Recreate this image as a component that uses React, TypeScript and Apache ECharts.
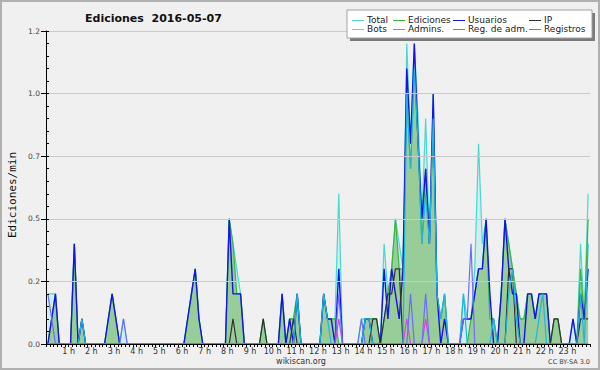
import React, { useEffect, useRef } from 'react';
import * as echarts from 'echarts';

// 10-minute bins (144 per day), values in edits per minute
const TOTAL = [
  0.2, 0.2, 0.2, 0, 0, 0, 0, 0.4, 0, 0.1, 0, 0,
  0, 0, 0, 0, 0.1, 0.2, 0.1, 0, 0.1, 0, 0, 0,
  0, 0, 0, 0, 0, 0, 0, 0, 0, 0, 0, 0,
  0, 0.1, 0.2, 0.3, 0.1, 0, 0, 0, 0, 0, 0, 0,
  0.5, 0.4, 0.3, 0.2, 0, 0, 0, 0, 0, 0.1, 0, 0,
  0, 0, 0.2, 0, 0.1, 0.1, 0.2, 0, 0, 0, 0, 0,
  0, 0.2, 0.1, 0.1, 0.1, 0.6, 0, 0, 0, 0, 0, 0.1,
  0.1, 0.1, 0.1, 0.1, 0, 0.4, 0.2, 0.3, 0.5, 0.4, 0.3, 1.2,
  0.8, 1.2, 0.9, 0.5, 0.9, 0.4, 1.0, 0.2, 0.1, 0.2, 0, 0,
  0, 0, 0.2, 0.1, 0.1, 0.3, 0.8, 0.4, 0.5, 0.1, 0.1, 0,
  0.2, 0.5, 0.4, 0.3, 0.2, 0.1, 0.1, 0.2, 0.2, 0.1, 0.2, 0.2,
  0.2, 0, 0.1, 0.1, 0, 0, 0, 0.1, 0, 0.4, 0.1, 0.6,
];
const EDICIONES = [
  0, 0.1, 0.2, 0, 0, 0, 0, 0.4, 0, 0.1, 0, 0,
  0, 0, 0, 0, 0.1, 0.2, 0.1, 0, 0, 0, 0, 0,
  0, 0, 0, 0, 0, 0, 0, 0, 0, 0, 0, 0,
  0, 0.1, 0.2, 0.3, 0.1, 0, 0, 0, 0, 0, 0, 0,
  0.5, 0.4, 0.2, 0.2, 0, 0, 0, 0, 0, 0.1, 0, 0,
  0, 0, 0.2, 0, 0.1, 0.1, 0.2, 0, 0, 0, 0, 0,
  0, 0.2, 0.1, 0.1, 0.1, 0, 0, 0, 0, 0, 0, 0,
  0.1, 0.1, 0.1, 0.1, 0, 0.1, 0.2, 0.3, 0.5, 0.3, 0.3, 1.0,
  0.7, 1.1, 0.8, 0.4, 0.7, 0.4, 0.9, 0.2, 0.1, 0.2, 0, 0,
  0, 0, 0, 0, 0.1, 0.2, 0.3, 0.3, 0.5, 0.1, 0.1, 0,
  0.2, 0.5, 0.4, 0.3, 0.2, 0.1, 0.1, 0.2, 0.2, 0.1, 0.2, 0.2,
  0.2, 0, 0.1, 0.1, 0, 0, 0, 0, 0, 0.3, 0.1, 0.5,
];
const USUARIOS = [
  0, 0.1, 0.2, 0, 0, 0, 0, 0.4, 0, 0.1, 0, 0,
  0, 0, 0, 0, 0.1, 0.2, 0.1, 0, 0, 0, 0, 0,
  0, 0, 0, 0, 0, 0, 0, 0, 0, 0, 0, 0,
  0, 0.1, 0.2, 0.3, 0.1, 0, 0, 0, 0, 0, 0, 0,
  0.5, 0.2, 0.2, 0.2, 0, 0, 0, 0, 0, 0, 0, 0,
  0, 0, 0.2, 0, 0.1, 0, 0.2, 0, 0, 0, 0, 0,
  0, 0.2, 0.1, 0.1, 0, 0.3, 0, 0, 0, 0, 0, 0,
  0.1, 0.1, 0, 0, 0, 0.3, 0.1, 0.3, 0.2, 0.1, 0.3, 1.1,
  0.8, 1.2, 0.8, 0.5, 0.7, 0.4, 1.0, 0.2, 0, 0.1, 0, 0,
  0, 0, 0.1, 0.1, 0.1, 0.2, 0.3, 0.3, 0.5, 0.2, 0, 0,
  0.2, 0.5, 0.3, 0.2, 0.2, 0, 0, 0.2, 0.2, 0.1, 0.2, 0.2,
  0.2, 0, 0, 0, 0, 0, 0, 0.1, 0, 0.2, 0.1, 0.3,
];
const IP = [
  0, 0, 0, 0, 0, 0, 0, 0, 0, 0, 0, 0,
  0, 0, 0, 0, 0, 0, 0, 0, 0, 0, 0, 0,
  0, 0, 0, 0, 0, 0, 0, 0, 0, 0, 0, 0,
  0, 0, 0, 0, 0, 0, 0, 0, 0, 0, 0, 0,
  0, 0.1, 0, 0, 0, 0, 0, 0, 0, 0.1, 0, 0,
  0, 0, 0, 0, 0, 0.1, 0, 0, 0, 0, 0, 0,
  0, 0, 0, 0, 0, 0, 0, 0, 0, 0, 0, 0,
  0, 0, 0.1, 0.1, 0, 0.1, 0.2, 0.2, 0.3, 0.3, 0, 0,
  0, 0, 0, 0, 0, 0, 0, 0, 0, 0, 0, 0,
  0, 0, 0, 0, 0, 0, 0, 0, 0, 0, 0, 0,
  0, 0, 0.3, 0.3, 0, 0, 0, 0, 0, 0, 0, 0,
  0, 0, 0.1, 0.1, 0, 0, 0, 0, 0, 0.1, 0.1, 0.1,
];
const BOTS = [
  0, 0, 0, 0, 0, 0, 0, 0, 0, 0, 0, 0,
  0, 0, 0, 0, 0, 0, 0, 0, 0, 0, 0, 0,
  0, 0, 0, 0, 0, 0, 0, 0, 0, 0, 0, 0,
  0, 0, 0, 0, 0, 0, 0, 0, 0, 0, 0, 0,
  0, 0, 0, 0, 0, 0, 0, 0, 0, 0, 0, 0,
  0, 0, 0, 0, 0, 0, 0, 0, 0, 0, 0, 0,
  0, 0, 0, 0, 0, 0, 0, 0, 0, 0, 0, 0,
  0, 0, 0, 0, 0, 0, 0, 0, 0, 0, 0, 0,
  0, 0, 0, 0, 0, 0, 0, 0, 0, 0, 0, 0,
  0, 0, 0, 0, 0, 0, 0, 0, 0, 0, 0, 0,
  0, 0, 0, 0, 0, 0, 0, 0, 0, 0, 0, 0,
  0, 0, 0, 0, 0, 0, 0, 0, 0, 0, 0, 0,
];
const ADMINS = [
  0, 0, 0, 0, 0, 0, 0, 0, 0, 0.1, 0, 0,
  0, 0, 0, 0, 0, 0, 0, 0, 0, 0, 0, 0,
  0, 0, 0, 0, 0, 0, 0, 0, 0, 0, 0, 0,
  0, 0, 0, 0, 0, 0, 0, 0, 0, 0, 0, 0,
  0, 0, 0, 0, 0, 0, 0, 0, 0, 0, 0, 0,
  0, 0, 0, 0, 0, 0, 0.2, 0, 0, 0, 0, 0,
  0, 0.2, 0.1, 0, 0, 0, 0, 0, 0, 0, 0, 0,
  0.1, 0.1, 0, 0, 0, 0, 0, 0, 0, 0, 0, 1.0,
  0.7, 1.1, 0.8, 0.4, 0.6, 0.4, 0.9, 0.2, 0.1, 0.2, 0, 0,
  0, 0, 0.2, 0, 0, 0, 0, 0, 0, 0, 0.1, 0,
  0, 0, 0.2, 0.3, 0.1, 0, 0, 0, 0, 0, 0.1, 0.2,
  0, 0, 0, 0, 0, 0, 0, 0, 0, 0.2, 0, 0.4,
];
const REG_ADM = [
  0, 0, 0, 0, 0, 0, 0, 0, 0, 0, 0, 0,
  0, 0, 0, 0, 0, 0, 0, 0, 0, 0, 0, 0,
  0, 0, 0, 0, 0, 0, 0, 0, 0, 0, 0, 0,
  0, 0, 0, 0, 0, 0, 0, 0, 0, 0, 0, 0,
  0, 0, 0, 0, 0, 0, 0, 0, 0, 0, 0, 0,
  0, 0, 0, 0, 0, 0, 0, 0, 0, 0, 0, 0,
  0, 0, 0, 0, 0, 0.1, 0, 0, 0, 0, 0, 0,
  0, 0, 0, 0, 0, 0, 0, 0, 0, 0, 0, 0.1,
  0, 0, 0, 0, 0.1, 0, 0, 0, 0, 0, 0, 0,
  0, 0, 0, 0, 0, 0, 0, 0, 0, 0, 0, 0,
  0, 0, 0, 0, 0, 0, 0, 0, 0, 0, 0, 0,
  0, 0, 0, 0, 0, 0, 0, 0, 0, 0, 0, 0,
];
const REGISTROS = [
  0.2, 0.1, 0, 0, 0, 0, 0, 0, 0, 0, 0, 0,
  0, 0, 0, 0, 0, 0, 0, 0, 0.1, 0, 0, 0,
  0, 0, 0, 0, 0, 0, 0, 0, 0, 0, 0, 0,
  0, 0, 0, 0, 0, 0, 0, 0, 0, 0, 0, 0,
  0, 0, 0, 0, 0, 0, 0, 0, 0, 0, 0, 0,
  0, 0, 0, 0, 0, 0, 0, 0, 0, 0, 0, 0,
  0, 0, 0, 0, 0, 0.2, 0, 0, 0, 0, 0, 0.1,
  0, 0, 0, 0, 0, 0, 0, 0, 0, 0, 0, 0,
  0.2, 0, 0, 0, 0.2, 0, 0, 0, 0, 0, 0, 0,
  0, 0, 0.1, 0.1, 0.4, 0, 0, 0, 0, 0, 0, 0,
  0, 0, 0, 0, 0, 0, 0, 0, 0, 0, 0, 0,
  0, 0, 0, 0, 0, 0, 0, 0, 0, 0, 0, 0,
];

const HOUR_LABELS = [
  '', '1 h', '2 h', '3 h', '4 h', '5 h', '6 h', '7 h', '8 h', '9 h', '10 h', '11 h', '12 h',
  '13 h', '14 h', '15 h', '16 h', '17 h', '18 h', '19 h', '20 h', '21 h', '22 h', '23 h', '',
];
const Y_LABELS = ['0.0', '0.2', '0.5', '0.7', '1.0', '1.2'];

const SERIES_NAMES = ['Total', 'Ediciones', 'Usuarios', 'IP', 'Bots', 'Admins.', 'Reg. de adm.', 'Registros'];
const SERIES_DATA = [TOTAL, EDICIONES, USUARIOS, IP, BOTS, ADMINS, REG_ADM, REGISTROS];
const COLORS = ['#48d8d0', '#3cb43c', '#1414e6', '#303030', '#ffa028', '#20b4e0', '#e040e0', '#6c6cff'];
const AREAS: (string | null)[] = ['rgba(170,232,234,0.45)', '#98cc98', null, null, null, null, null, null];

const FONT = '"DejaVu Sans", sans-serif';

export default function App() {
  const ref = useRef<HTMLDivElement>(null);
  useEffect(() => {
    document.body.style.margin = '0';
    const chart = echarts.init(ref.current!, null, { renderer: 'svg' });

    const series = SERIES_NAMES.map((name, k) => ({
      name,
      type: 'line',
      data: SERIES_DATA[k].map((v, i) => [i + 0.5, v]),
      showSymbol: false,
      symbol: 'none',
      silent: true,
      clip: true,
      lineStyle: { color: COLORS[k], width: k === 2 ? 1.4 : 1.2 },
      itemStyle: { color: COLORS[k] },
      areaStyle: AREAS[k] ? { color: AREAS[k] as string, opacity: 1 } : undefined,
      yAxisIndex: 0,
    }));

    const colX = [352, 393, 453, 529];
    const rowY = [20, 29];
    const legendEls: any[] = [
      { type: 'rect', z: 100, shape: { x: 350, y: 13, width: 245, height: 28 }, style: { fill: '#7a7a7a' } },
      { type: 'rect', z: 101, shape: { x: 347, y: 10, width: 245, height: 28 }, style: { fill: '#ffffff', stroke: '#a0a0a0', lineWidth: 1 } },
    ];
    SERIES_NAMES.forEach((name, k) => {
      const c = k % 4;
      const r = Math.floor(k / 4);
      const x0 = colX[c];
      const y0 = rowY[r];
      legendEls.push({
        type: 'line',
        z: 102,
        shape: { x1: x0, y1: y0 + 0.5, x2: x0 + 12, y2: y0 + 0.5 },
        style: { stroke: COLORS[k], lineWidth: 1 },
      });
      legendEls.push({
        type: 'text',
        z: 102,
        x: x0 + 15,
        y: y0,
        style: {
          text: name,
          font: `9px ${FONT}`,
          fill: '#222',
          textAlign: 'left',
          textVerticalAlign: 'middle',
        },
      });
    });

    chart.setOption({
      animation: false,
      backgroundColor: '#f0f0f0',
      grid: { left: 46, right: 10, top: 31, bottom: 26, containLabel: false },
      xAxis: {
        type: 'value',
        min: 0,
        max: 144,
        interval: 6,
        z: 10,
        axisLine: { show: true, onZero: false, lineStyle: { color: '#000', width: 1 } },
        axisTick: { show: true, length: 3, lineStyle: { color: '#000' } },
        minorTick: { show: true, splitNumber: 6, length: 3, lineStyle: { color: '#000' } },
        splitLine: { show: false },
        axisLabel: {
          formatter: (v: number) => HOUR_LABELS[Math.round(v / 6)] ?? '',
          fontSize: 8,
          fontFamily: FONT,
          color: '#333',
          margin: 3,
        },
      },
      yAxis: [
        {
          type: 'value',
          min: 0,
          max: 1.25,
          interval: 0.25,
          z: 10,
          axisLine: { show: true, lineStyle: { color: '#000', width: 1 } },
          axisTick: { show: true, length: 5, lineStyle: { color: '#000' } },
          splitLine: { show: true, lineStyle: { color: '#cacaca', width: 1 } },
          axisLabel: {
            formatter: (v: number) => Y_LABELS[Math.round(v / 0.25)] ?? '',
            fontSize: 7.5,
            fontFamily: FONT,
            color: '#444',
            margin: 6,
          },
        },
        {
          type: 'value',
          position: 'left',
          min: 0,
          max: 1.25,
          interval: 0.05,
          z: 10,
          alignTicks: false,
          axisLine: { show: false },
          axisTick: { show: true, inside: true, length: 3, lineStyle: { color: '#000' } },
          axisLabel: { show: false },
          splitLine: { show: false },
        },
      ],
      series,
      graphic: [
        {
          type: 'rect',
          z: 100,
          shape: { x: 1, y: 1, width: 598, height: 368 },
          style: { fill: 'none', stroke: '#b0b0b0', lineWidth: 2 },
        },
        {
          type: 'text',
          z: 100,
          x: 85,
          y: 18,
          style: {
            text: 'Ediciones  2016-05-07',
            font: `bold 11px ${FONT}`,
            fill: '#111',
            textAlign: 'left',
            textVerticalAlign: 'middle',
          },
        },
        {
          type: 'text',
          z: 100,
          x: 12,
          y: 195,
          rotation: Math.PI / 2,
          style: {
            text: 'Ediciones/min',
            font: `11px "DejaVu Sans Mono", monospace`,
            fill: '#111',
            textAlign: 'center',
            textVerticalAlign: 'middle',
          },
        },
        {
          type: 'text',
          z: 100,
          x: 301,
          y: 361,
          style: {
            text: 'wikiscan.org',
            font: `8px ${FONT}`,
            fill: '#333',
            textAlign: 'center',
            textVerticalAlign: 'middle',
          },
        },
        {
          type: 'text',
          z: 100,
          x: 590,
          y: 362,
          style: {
            text: 'CC BY-SA 3.0',
            font: `6.5px ${FONT}`,
            fill: '#444',
            textAlign: 'right',
            textVerticalAlign: 'middle',
          },
        },
        ...legendEls,
      ],
    });
    return () => chart.dispose();
  }, []);
  return <div ref={ref} style={{ width: 600, height: 370 }} />;
}
